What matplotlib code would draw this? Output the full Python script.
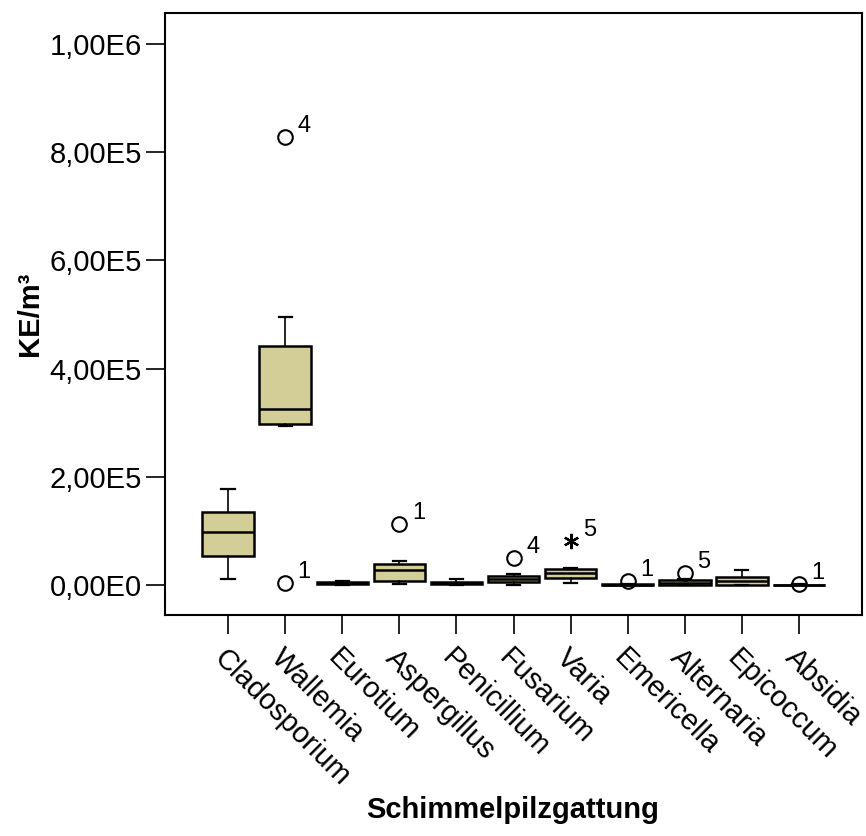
import matplotlib
matplotlib.use("Agg")
import matplotlib.pyplot as plt

plt.rcParams['font.family'] = ['Liberation Sans', 'DejaVu Sans']

categories = ["Cladosporium", "Wallemia", "Eurotium", "Aspergillus", "Penicillium",
              "Fusarium", "Varia", "Emericella", "Alternaria", "Epicoccum", "Absidia"]
whislo = [11000, 293000, 0, 2400, 0, 0, 4000, 0, 0, 0, 0]
q1 = [53000, 297000, 2000, 7000, 1000, 5000, 13500, 0, 0, 0, 0]
med = [98000, 325000, 4000, 28000, 3000, 11000, 22000, 500, 3000, 7000, 0]
q3 = [134000, 442000, 6000, 39000, 5000, 17000, 29600, 1000, 10000, 15000, 500]
whishi = [177000, 496000, 8000, 44000, 11000, 21000, 32000, 1500, 12000, 28000, 1000]

# outliers: category index, value, case label, marker
out_idx = [1, 1, 3, 5, 6, 7, 8, 10]
out_val = [828000, 3000, 112000, 49000, 82000, 8000, 23000, 1000]
out_lab = ["4", "1", "1", "4", "5", "1", "5", "1"]
out_mark = ["o", "o", "o", "o", "*", "o", "o", "o"]

yticks = [0, 200000, 400000, 600000, 800000, 1000000]
ytick_labels = ["0,00E0", "2,00E5", "4,00E5", "6,00E5", "8,00E5", "1,00E6"]

fig = plt.figure(figsize=(8.66, 8.36), dpi=100)
ax = fig.add_axes([0.1905, 0.264, 0.805, 0.7204])

stats = []
for i in range(len(categories)):
    stats.append(dict(med=med[i], q1=q1[i], q3=q3[i], whislo=whislo[i],
                      whishi=whishi[i], fliers=[], label=categories[i]))

pos = list(range(len(categories)))
ax.bxp(stats, positions=pos, widths=0.9, capwidths=0.23, patch_artist=True,
       showfliers=False,
       boxprops=dict(facecolor='#d3ce98', edgecolor='black', linewidth=1.8),
       medianprops=dict(color='black', linewidth=1.8),
       whiskerprops=dict(color='black', linewidth=1.2),
       capprops=dict(color='black', linewidth=1.6))

for i, v, lab, m in zip(out_idx, out_val, out_lab, out_mark):
    if m == 'o':
        ax.plot(pos[i], v, marker='o', ms=10.5, mfc='none', mec='black', mew=1.5, zorder=5)
    else:
        ax.plot(pos[i], v, marker=(6, 2, 0), ms=11, mfc='black', mec='black', mew=1.6, zorder=5)
    ax.annotate(lab, (pos[i], v), xytext=(9, 0), textcoords='offset points',
                fontsize=17, ha='left', va='bottom')

ax.set_xlim(-1.105, len(categories) - 1 + 1.105)
ax.set_ylim(-56000, 1057000)
ax.set_yticks(yticks)
ax.set_yticklabels(ytick_labels, fontsize=21)
ax.set_xticks(pos)
ax.set_xticklabels(categories, fontsize=21, rotation=-45, ha='left', va='top',
                   rotation_mode='anchor')
ax.tick_params(axis='both', direction='out', length=13.5, width=1.2, color='black')
ax.tick_params(axis='x', pad=7)
ax.tick_params(axis='y', pad=3)
for s in ax.spines.values():
    s.set_linewidth(1.5)
    s.set_color('black')

fig.text(30 / 866, 1 - 314 / 836, "KE/m³", fontsize=21, fontweight='bold',
         rotation=90, ha='center', va='center')
fig.text(513 / 866, 1 - 810 / 836, "Schimmelpilzgattung", fontsize=21,
         fontweight='bold', ha='center', va='center')

fig.savefig("out.png", dpi=100)
